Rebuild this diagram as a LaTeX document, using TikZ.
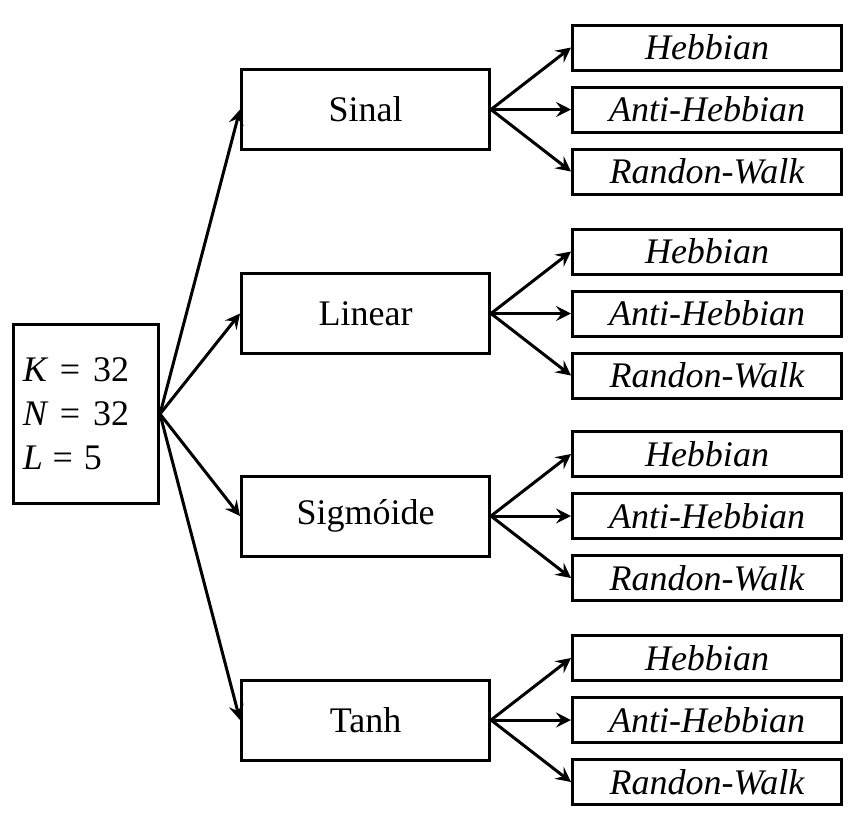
\documentclass[tikz,border=0pt]{standalone}
\usepackage{fontspec}
\setmainfont{Liberation Serif}
\usetikzlibrary{arrows.meta}
\begin{document}
\begin{tikzpicture}[x=0.5pt,y=-0.5pt,
  box/.style={draw, line width=1.5pt, inner sep=0pt, font=\fontsize{18}{22}\selectfont},
  leftbox/.style={box, minimum width=72.5pt, minimum height=89.5pt, text width=63pt, align=left},
  midbox/.style={box, minimum width=124pt, minimum height=40pt},
  leafbox/.style={box, minimum width=134.5pt, minimum height=22.5pt, font=\fontsize{18}{22}\selectfont\itshape},
  arr/.style={line width=1.5pt, -{Stealth[length=7.5pt,width=7.5pt,inset=2.8pt]}}]
\useasboundingbox (0,0) rectangle (857,821);
\node[leftbox] (L) at (86,414) {{\itshape K}\hspace{0.36em}=\hspace{0.36em}32\\{\itshape N}\hspace{0.36em}=\hspace{0.36em}32\\{\itshape L}\hspace{0.27em}=\hspace{0.3em}5};
\foreach \n/\t/\y in {a/Sinal/109.5, b/Linear/313.5, c/Sigmóide/516, d/Tanh/720} {
  \node[midbox] (\n) at (365.5,\y) {\t};
  \draw[arr] (L.east) -- (\n.west);
  \node[leafbox] (\n1) at (707,\y-62) {Hebbian};
  \node[leafbox] (\n2) at (707,\y) {Anti-Hebbian};
  \node[leafbox] (\n3) at (707,\y+62) {Randon-Walk};
  \draw[arr] (\n.east) -- (\n1.west);
  \draw[arr] (\n.east) -- (\n2.west);
  \draw[arr] (\n.east) -- (\n3.west);
}
\end{tikzpicture}
\end{document}
